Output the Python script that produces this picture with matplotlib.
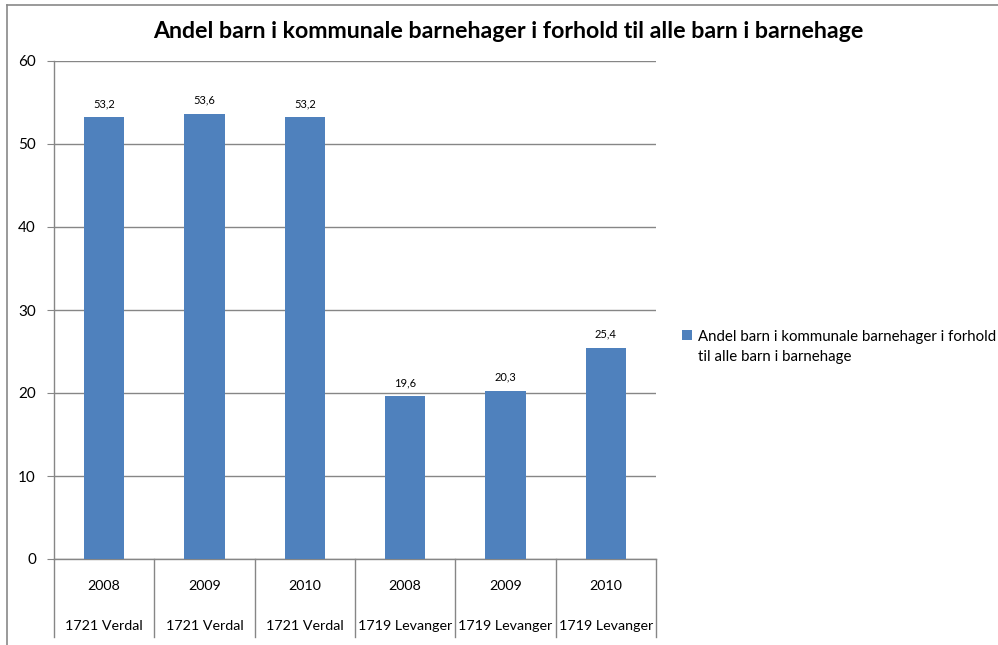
import matplotlib.pyplot as plt
from matplotlib.lines import Line2D
import matplotlib.transforms as mtransforms

years = ['2008', '2009', '2010', '2008', '2009', '2010']
regions = ['1721 Verdal', '1721 Verdal', '1721 Verdal',
           '1719 Levanger', '1719 Levanger', '1719 Levanger']
values = [53.2, 53.6, 53.2, 19.6, 20.3, 25.4]
series_name = 'Andel barn i kommunale barnehager i forhold\ntil alle barn i barnehage'
title = 'Andel barn i kommunale barnehager i forhold til alle barn i barnehage'

plt.rcParams['font.family'] = ['Lato', 'DejaVu Sans']

W, H = 998, 645
fig = plt.figure(figsize=(W / 100, H / 100), dpi=100)

# plot area in pixels
left, right, top, bottom = 54, 656, 61, 559
ax = fig.add_axes([left / W, 1 - bottom / H, (right - left) / W, (bottom - top) / H])

grey = '#868686'
x = list(range(len(values)))
bars = ax.bar(x, values, width=0.4, color='#4F81BD', label=series_name, zorder=3)

ax.set_xlim(-0.5, len(values) - 0.5)
ax.set_ylim(0, 60)
ax.set_yticks(range(0, 61, 10))
ax.yaxis.grid(True, color=grey, linewidth=1, zorder=0)
ax.tick_params(axis='y', length=5, color=grey, labelsize=11, pad=8)
ax.set_xticks([])
for s in ['top', 'right']:
    ax.spines[s].set_visible(False)
for s in ['left', 'bottom']:
    ax.spines[s].set_color(grey)
    ax.spines[s].set_linewidth(1)

# data labels
for xi, v in zip(x, values):
    ax.annotate(f'{v:.1f}'.replace('.', ','), (xi, v), xytext=(0, 6),
                textcoords='offset points', ha='center', va='bottom', fontsize=8)

# two-level category axis
trans = mtransforms.blended_transform_factory(ax.transData, ax.transAxes)
depth = (637 - bottom) / (bottom - top)
for i in range(len(values) + 1):
    ax.add_line(Line2D([i - 0.5, i - 0.5], [0, -depth], transform=trans,
                       color=grey, linewidth=1, clip_on=False))
y_year = -(586 - bottom) / (bottom - top)
y_reg = -(626 - bottom) / (bottom - top)
for xi, yr, rg in zip(x, years, regions):
    ax.text(xi, y_year, yr, transform=trans, ha='center', va='center', fontsize=10.3)
    ax.text(xi, y_reg, rg, transform=trans, ha='center', va='center', fontsize=10.3)

fig.text(508 / W, 1 - 32 / H, title, ha='center', va='center',
         fontsize=16.7, fontweight='bold')

leg = ax.legend(loc='center left', bbox_to_anchor=(668 / W, 1 - 347 / H),
                bbox_transform=fig.transFigure, frameon=False, fontsize=10.8,
                handlelength=0.7, handleheight=0.7, handletextpad=0.4)
for t in leg.get_texts():
    t.set_linespacing(1.55)
# put the square next to the first line of the label
for col in leg._legend_handle_box.get_children():
    for row in col.get_children():
        row.align = 'top'

# chart border
fig.add_artist(Line2D([7 / W, 7 / W], [0, 1 - 5 / H], color='#898989', linewidth=1.2))
fig.add_artist(Line2D([7 / W, 1], [1 - 5 / H, 1 - 5 / H], color='#898989', linewidth=1.2))

fig.savefig('out.png', dpi=100)
